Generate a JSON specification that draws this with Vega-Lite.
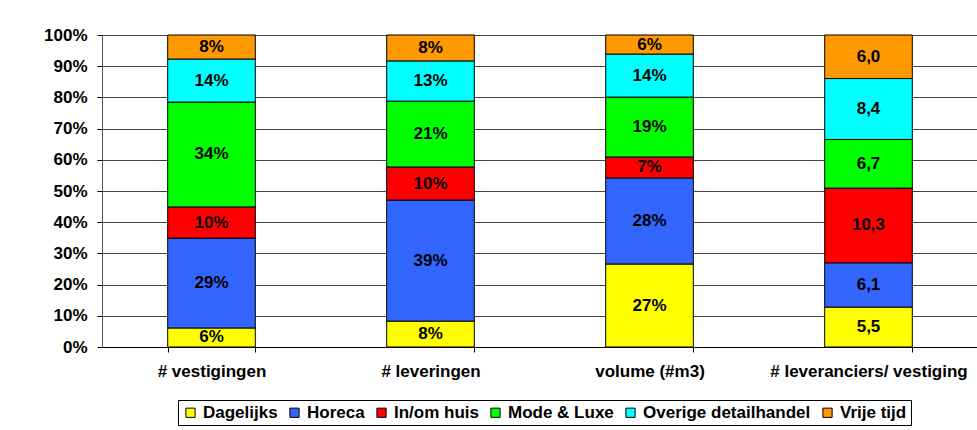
{
  "$schema": "https://vega.github.io/schema/vega-lite/v6.json",
  "width": 876,
  "height": 312,
  "autosize": "none",
  "padding": {"left": 102, "top": 35, "right": 0, "bottom": 83},
  "background": "white",
  "config": {"view": {"stroke": null}, "font": "Liberation Sans"},
  "data": {"values": [
    {"cat": "# vestigingen", "series": "Dagelijks", "order": 1, "value": 6.1, "label": "6%"},
    {"cat": "# vestigingen", "series": "Horeca", "order": 2, "value": 28.8, "label": "29%"},
    {"cat": "# vestigingen", "series": "In/om huis", "order": 3, "value": 10.0, "label": "10%"},
    {"cat": "# vestigingen", "series": "Mode & Luxe", "order": 4, "value": 33.6, "label": "34%"},
    {"cat": "# vestigingen", "series": "Overige detailhandel", "order": 5, "value": 13.8, "label": "14%"},
    {"cat": "# vestigingen", "series": "Vrije tijd", "order": 6, "value": 7.7, "label": "8%"},
    {"cat": "# leveringen", "series": "Dagelijks", "order": 1, "value": 8.3, "label": "8%"},
    {"cat": "# leveringen", "series": "Horeca", "order": 2, "value": 38.8, "label": "39%"},
    {"cat": "# leveringen", "series": "In/om huis", "order": 3, "value": 10.6, "label": "10%"},
    {"cat": "# leveringen", "series": "Mode & Luxe", "order": 4, "value": 21.1, "label": "21%"},
    {"cat": "# leveringen", "series": "Overige detailhandel", "order": 5, "value": 12.9, "label": "13%"},
    {"cat": "# leveringen", "series": "Vrije tijd", "order": 6, "value": 8.3, "label": "8%"},
    {"cat": "volume (#m3)", "series": "Dagelijks", "order": 1, "value": 26.6, "label": "27%"},
    {"cat": "volume (#m3)", "series": "Horeca", "order": 2, "value": 27.6, "label": "28%"},
    {"cat": "volume (#m3)", "series": "In/om huis", "order": 3, "value": 6.7, "label": "7%"},
    {"cat": "volume (#m3)", "series": "Mode & Luxe", "order": 4, "value": 19.2, "label": "19%"},
    {"cat": "volume (#m3)", "series": "Overige detailhandel", "order": 5, "value": 13.8, "label": "14%"},
    {"cat": "volume (#m3)", "series": "Vrije tijd", "order": 6, "value": 6.1, "label": "6%"},
    {"cat": "# leveranciers/ vestiging", "series": "Dagelijks", "order": 1, "value": 5.5, "label": "5,5"},
    {"cat": "# leveranciers/ vestiging", "series": "Horeca", "order": 2, "value": 6.1, "label": "6,1"},
    {"cat": "# leveranciers/ vestiging", "series": "In/om huis", "order": 3, "value": 10.3, "label": "10,3"},
    {"cat": "# leveranciers/ vestiging", "series": "Mode & Luxe", "order": 4, "value": 6.7, "label": "6,7"},
    {"cat": "# leveranciers/ vestiging", "series": "Overige detailhandel", "order": 5, "value": 8.4, "label": "8,4"},
    {"cat": "# leveranciers/ vestiging", "series": "Vrije tijd", "order": 6, "value": 6.0, "label": "6,0"}
  ]},
  "transform": [
    {"stack": "value", "groupby": ["cat"], "sort": [{"field": "order"}], "offset": "normalize", "as": ["y0", "y1"]},
    {"calculate": "(datum.y0 + datum.y1) / 2", "as": "ymid"}
  ],
  "encoding": {
    "x": {
      "field": "cat", "type": "nominal",
      "sort": ["# vestigingen", "# leveringen", "volume (#m3)", "# leveranciers/ vestiging"],
      "scale": {"paddingInner": 0.6, "paddingOuter": 0.3},
      "axis": {
        "title": null, "labelAngle": 0, "tickBand": "extent",
        "domainColor": "#000", "tickColor": "#000", "tickSize": 5,
        "labelFontSize": 17, "labelFontWeight": "bold", "labelColor": "#000",
        "labelPadding": 11, "labelLimit": 300
      }
    }
  },
  "layer": [
    {
      "mark": {"type": "bar", "stroke": "#000", "strokeWidth": 1},
      "encoding": {
        "y": {
          "field": "y0", "type": "quantitative",
          "scale": {"domain": [0, 1], "nice": false},
          "axis": {
            "title": null, "values": [0, 0.1, 0.2, 0.3, 0.4, 0.5, 0.6, 0.7, 0.8, 0.9, 1],
            "format": ".0%", "grid": true, "gridColor": "#444", "gridOpacity": 1,
            "domainColor": "#555", "tickColor": "#000", "tickSize": 5,
            "labelFontSize": 17, "labelFontWeight": "bold", "labelColor": "#000",
            "labelPadding": 10, "labelOverlap": false
          }
        },
        "y2": {"field": "y1"},
        "color": {
          "field": "series", "type": "nominal",
          "scale": {
            "domain": ["Dagelijks", "Horeca", "In/om huis", "Mode & Luxe", "Overige detailhandel", "Vrije tijd"],
            "range": ["#FFFF00", "#3366FF", "#FF0000", "#00FF00", "#00FFFF", "#FF9900"]
          },
          "legend": {
            "title": null, "orient": "none", "legendX": 76, "legendY": 365,
            "direction": "horizontal", "columns": 6,
            "strokeColor": "#000", "fillColor": "#fff", "padding": 4,
            "symbolType": "square", "symbolSize": 85, "symbolStrokeColor": "#000",
            "symbolStrokeWidth": 1, "symbolOpacity": 1,
            "labelFontSize": 17, "labelFontWeight": "bold", "labelColor": "#000",
            "columnPadding": 8, "labelOffset": 4, "labelLimit": 300
          }
        }
      }
    },
    {
      "mark": {"type": "text", "fontSize": 17, "fontWeight": "bold", "color": "#000", "baseline": "middle"},
      "encoding": {
        "y": {
          "field": "ymid", "type": "quantitative",
          "axis": {
            "title": null, "values": [0, 0.1, 0.2, 0.3, 0.4, 0.5, 0.6, 0.7, 0.8, 0.9, 1],
            "format": ".0%", "grid": true, "gridColor": "#444", "gridOpacity": 1,
            "domainColor": "#555", "tickColor": "#000", "tickSize": 5,
            "labelFontSize": 17, "labelFontWeight": "bold", "labelColor": "#000",
            "labelPadding": 10, "labelOverlap": false
          }
        },
        "text": {"field": "label"}
      }
    }
  ]
}
